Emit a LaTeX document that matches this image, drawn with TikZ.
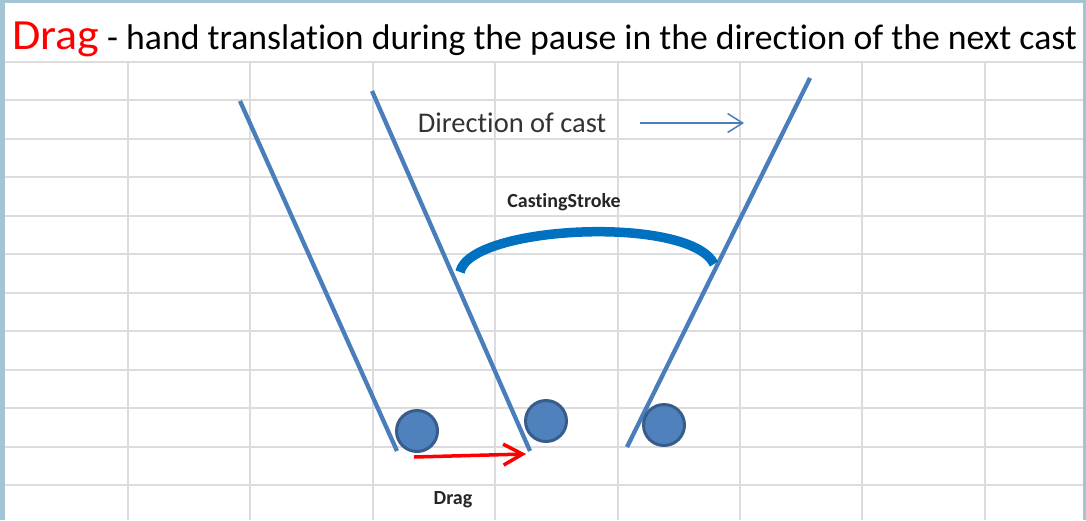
\documentclass[tikz,border=0pt]{standalone}
\usepackage{fontspec}
\setmainfont{Carlito}[Ligatures={NoCommon}]
\usetikzlibrary{arrows.meta, positioning}
\definecolor{frameblue}{HTML}{A3C4D4}
\definecolor{gridgray}{HTML}{DCDCDC}
\definecolor{rodblue}{HTML}{4A7EBB}
\definecolor{ballblue}{HTML}{4F81BD}
\definecolor{balledge}{HTML}{385D8A}
\definecolor{strokeblue}{HTML}{0070C0}
\tikzstyle{gridline}=[draw=gridgray, line width=2pt]
\tikzstyle{rod}=[draw=rodblue, line width=4.3pt]
\tikzstyle{ball}=[circle, fill=ballblue, draw=balledge, line width=3pt, minimum size=41pt, inner sep=0pt]
\tikzstyle{lbl}=[font=\fontsize{20}{22}\selectfont\bfseries, text=black!85, inner sep=0pt]
\tikzstyle{every node}=[inner sep=0pt]

\begin{document}
\begin{tikzpicture}[x=1pt, y=-1pt, >=Straight Barb]
    \useasboundingbox (0,0) rectangle (1086,520);
    % frame and sheet
    \fill[frameblue] (0,0) rectangle (1086,520);
    \fill[white] (5,3) rectangle (1083,520);
    \foreach \i in {0,...,11}
        \draw[gridline] (5,62+38.45*\i) -- (1083,62+38.45*\i);
    \foreach \i in {0,...,7}
        \draw[gridline] (128+122.4*\i,62) -- (128+122.4*\i,520);
    % title
    \node[anchor=base west, text=red, font=\fontsize{43}{46}\selectfont, xscale=1.07] (dragword) at (12,49) {Drag};
    \node[anchor=base west, font=\fontsize{35.7}{38}\selectfont] (title) at (107,49) {- hand translation during the pause in the direction of the next cast};
    % rods
    \coordinate (r1top) at (240,101);
    \coordinate (r1bot) at (397,451);
    \coordinate (r2top) at (372,91);
    \coordinate (r2bot) at (530,451);
    \coordinate (r3top) at (810,78);
    \coordinate (r3bot) at (627,447);
    \draw[rod] (r1top) -- (r1bot);
    \draw[rod] (r2top) -- (r2bot);
    \draw[rod] (r3top) -- (r3bot);
    % balls
    \node[ball] (ball1) at (417,431) {};
    \node[ball] (ball2) at (546,421) {};
    \node[ball] (ball3) at (664,425) {};
    % direction
    \node[font=\fontsize{28.5}{30}\selectfont, text=black!80] (dircast) at (512,123) {Direction of cast};
    \coordinate (dirtail) at (640,123);
    \coordinate (dirhead) at (744,123);
    \draw[->, draw=rodblue, line width=1.5pt, >={Straight Barb[length=15pt, width=19pt]}] (dirtail) -- (dirhead);
    % casting stroke
    \node[lbl] (castlbl) at (564,202) {CastingStroke};
    \coordinate (arcL) at (460,272);
    \coordinate (arcR) at (714,264);
    \draw[strokeblue, line width=9.5pt] (arcL) .. controls (470,225) and (690,215) .. (arcR);
    % drag
    \coordinate (dragstart) at (414,457);
    \coordinate (dragend) at (526,454);
    \draw[->, red, line width=3.5pt, >={Straight Barb[length=19pt, width=21pt]}] (dragstart) -- (dragend);
    \node[lbl] (draglbl) at (453,500) {Drag};
\end{tikzpicture}
\end{document}
